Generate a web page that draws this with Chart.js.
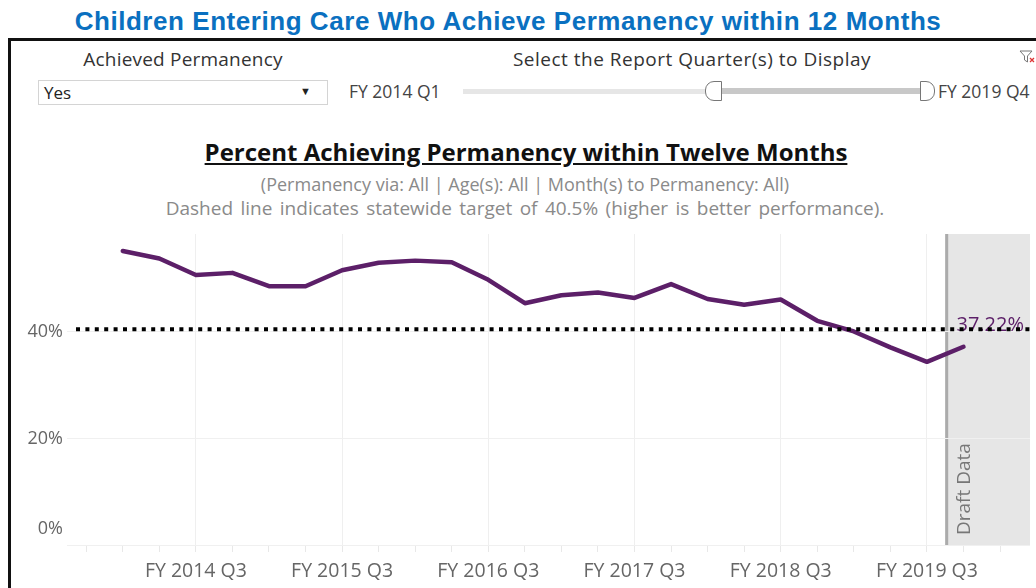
<!DOCTYPE html>
<html>
<head>
<meta charset="utf-8">
<script src="https://cdn.jsdelivr.net/npm/chart.js@4.4.1/dist/chart.umd.min.js"></script>
<style>
  body { margin: 0; width: 1036px; height: 588px; overflow: hidden; background: #fff; font-family: "Open Sans", sans-serif; }
  .t { position: absolute; white-space: nowrap; line-height: 1; }
  .c { transform: translate(-50%, -50%); }
  .l { transform: translateY(-50%); }
  #frame { position: absolute; left: 8px; top: 38px; width: 1100px; height: 600px; border-left: 3px solid #111; border-top: 3px solid #111; }
  #chartBox { position: absolute; left: 0; top: 225px; width: 1036px; height: 363px; }
</style>
</head>
<body>
<div class="t c" style="left:508px; top:21px; font-family:'Liberation Sans',sans-serif; font-weight:bold; font-size:26px; letter-spacing:0.55px; color:#0a70c0;">Children Entering Care Who Achieve Permanency within 12 Months</div>
<div id="frame"></div>

<div class="t c" style="left:183px; top:59px; font-size:19px; letter-spacing:0.2px; color:#333;">Achieved Permanency</div>
<div style="position:absolute; left:38px; top:80px; width:288px; height:23px; border:1px solid #d4d4d4;"></div>
<div class="t l" style="left:44px; top:92px; font-size:17px; color:#222;">Yes</div>
<div class="t l" style="left:300px; top:90px; font-size:11px; color:#222;">&#9660;</div>

<div class="t c" style="left:692px; top:59px; font-size:19px; letter-spacing:0.5px; color:#333;">Select the Report Quarter(s) to Display</div>
<div class="t l" style="left:349px; top:92px; font-size:17.5px; color:#444;">FY 2014 Q1</div>
<div style="position:absolute; left:463px; top:89px; width:457px; height:5px; background:#e6e6e6;"></div>
<div style="position:absolute; left:715px; top:88px; width:205px; height:6px; background:#c8c8c8;"></div>
<div style="position:absolute; left:705px; top:81px; width:15px; height:18px; background:#fff; border:1.5px solid #777; border-radius:9px 0 0 9px;"></div>
<div style="position:absolute; left:920px; top:81px; width:13px; height:18px; background:#fff; border:1.5px solid #777; border-radius:0 9px 9px 0;"></div>
<div class="t l" style="left:938px; top:92px; font-size:17.5px; color:#444;">FY 2019 Q4</div>
<svg style="position:absolute; left:1019px; top:50px;" width="17" height="14">
  <path d="M1 1 H13 L8.5 6 V12 L5.5 10 V6 Z" fill="none" stroke="#777" stroke-width="1"/>
  <path d="M11 8 L15 12 M15 8 L11 12" stroke="#d33" stroke-width="1.3"/>
</svg>

<div class="t c" style="left:526px; top:152px; font-size:24px; font-weight:bold; color:#111; text-decoration:underline;">Percent Achieving Permanency within Twelve Months</div>
<div class="t c" style="left:525px; top:184px; font-size:18px; color:#8a8a8a;">(Permanency via: All | Age(s): All | Month(s) to Permanency: All)</div>
<div class="t c" style="left:525px; top:208px; font-size:19px; word-spacing:2.5px; color:#8a8a8a;">Dashed line indicates statewide target of 40.5% (higher is better performance).</div>

<div id="chartBox"><canvas id="myChart" width="1036" height="363"></canvas></div>

<script>
const quarters = [
  "FY 2014 Q1", "FY 2014 Q2", "FY 2014 Q3", "FY 2014 Q4",
  "FY 2015 Q1", "FY 2015 Q2", "FY 2015 Q3", "FY 2015 Q4",
  "FY 2016 Q1", "FY 2016 Q2", "FY 2016 Q3", "FY 2016 Q4",
  "FY 2017 Q1", "FY 2017 Q2", "FY 2017 Q3", "FY 2017 Q4",
  "FY 2018 Q1", "FY 2018 Q2", "FY 2018 Q3", "FY 2018 Q4",
  "FY 2019 Q1", "FY 2019 Q2", "FY 2019 Q3", "FY 2019 Q4",
];
const pctValues = [
  55.2, 53.8, 50.7, 51.1, 48.6, 48.6, 51.6, 53.0,
  53.4, 53.1, 49.8, 45.4, 46.9, 47.4, 46.4, 49.0,
  46.2, 45.1, 46.1, 42.1, 40.1, 37.1, 34.4, 37.22,
];
const yTicks = [0, 20, 40];
const target = 40.5;
const draftFrom = "FY 2019 Q4";
const draftLabel = "Draft Data";

const lineColor = "#5c1f68";
const tickFont = { family: "Open Sans", size: 19.5 };

// gray "draft" band, drawn before the grid so the gridlines show through it
const draftBand = {
  id: "draftBand",
  beforeDraw(chart) {
    const { ctx, chartArea, scales } = chart;
    const x0 = scales.x.getPixelForValue(quarters.indexOf(draftFrom) - 0.5);
    ctx.save();
    ctx.fillStyle = "#e6e6e6";
    ctx.fillRect(x0, chartArea.top, chartArea.right - x0, chartArea.bottom - chartArea.top);
    ctx.fillStyle = "#ababab";
    ctx.fillRect(x0, chartArea.top, 3, chartArea.bottom - chartArea.top);
    ctx.restore();
  },
  afterDatasetsDraw(chart) {
    const { ctx, chartArea, scales } = chart;
    const last = pctValues.length - 1;
    const px = scales.x.getPixelForValue(last);
    const py = scales.y.getPixelForValue(pctValues[last]);
    ctx.save();
    // end label
    ctx.font = "20px 'Open Sans'";
    ctx.fillStyle = lineColor;
    ctx.textAlign = "left";
    ctx.textBaseline = "middle";
    ctx.fillText(pctValues[last].toFixed(2) + "%", px - 7, py - 21);
    // target line
    const ty = scales.y.getPixelForValue(target);
    ctx.strokeStyle = "#000";
    ctx.lineWidth = 4;
    ctx.setLineDash([4, 5.4]);
    ctx.beginPath();
    ctx.moveTo(chartArea.left, ty);
    ctx.lineTo(chartArea.right, ty);
    ctx.stroke();
    ctx.setLineDash([]);
    // rotated draft label
    ctx.font = "19px 'Open Sans'";
    ctx.translate(px + 1, chartArea.bottom - 10);
    ctx.rotate(-Math.PI / 2);
    ctx.fillStyle = "#777";
    ctx.textAlign = "left";
    ctx.fillText(draftLabel, 0, 0);
    ctx.restore();
  },
  afterDraw(chart) {
    // y labels; the bottom one sits above its gridline like the original
    const { ctx, scales } = chart;
    ctx.save();
    ctx.font = "18px 'Open Sans'";
    ctx.fillStyle = "#666";
    ctx.textAlign = "right";
    ctx.textBaseline = "middle";
    yTicks.forEach((v) => {
      let y = scales.y.getPixelForValue(v);
      if (v === 0) y -= 16;
      ctx.fillText(v + "%", scales.y.right - 13, y);
    });
    ctx.restore();
  },
};

const data = {
  datasets: [
    {
      label: "Percent",
      data: pctValues.map((v, i) => ({ x: i, y: v })),
      borderColor: lineColor,
      borderWidth: 4.5,
      pointRadius: 0,
      tension: 0,
      borderJoinStyle: "round",
      borderCapStyle: "round",
    },
  ],
};

const config = {
  type: "line",
  data: data,
  options: {
    responsive: false,
    animation: false,
    layout: { padding: { left: 0, right: 6, top: 9, bottom: 0 } },
    plugins: {
      legend: { display: false },
      tooltip: { enabled: false },
    },
    scales: {
      x: {
        type: "linear",
        min: -1.28,
        max: 24.82,
        afterBuildTicks: (scale) => {
          const t = [];
          for (let i = -1; i <= quarters.length; i++) t.push({ value: i });
          scale.ticks = t;
        },
        afterFit: (scale) => { scale.height = 43; },
        border: { display: false },
        grid: {
          color: (c) => (quarters[c.tick && c.tick.value] || "").endsWith("Q3") ? "#efefef" : "rgba(0,0,0,0)",
          tickColor: "#e8e8e8",
          tickLength: 7,
        },
        ticks: {
          autoSkip: false,
          maxRotation: 0,
          padding: 8,
          color: "#666",
          font: tickFont,
          callback: (v) => (quarters[v] || "").endsWith("Q3") ? quarters[v] : "",
        },
      },
      y: {
        min: 0,
        max: 58.4,
        afterBuildTicks: (scale) => { scale.ticks = yTicks.map((v) => ({ value: v })); },
        afterFit: (scale) => { scale.width = 76; },
        border: { display: false },
        grid: { color: "#f0f0f0", tickColor: "#f0f0f0", tickLength: 9 },
        ticks: { display: false },
      },
    },
  },
  plugins: [draftBand],
};

const myChart = new Chart(document.getElementById("myChart"), config);
</script>
</body>
</html>
